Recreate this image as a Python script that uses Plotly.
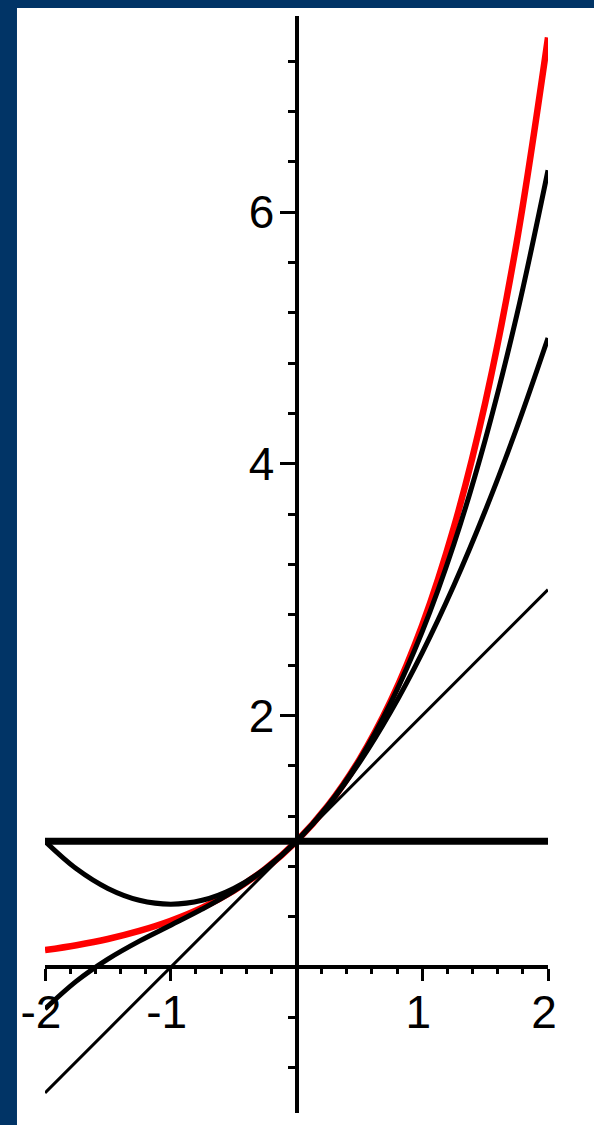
import plotly.graph_objects as go

# Sample points on [-2, 2]
x_vals = [-2.0, -1.75, -1.5, -1.25, -1.0, -0.75, -0.5, -0.25, 0.0,
          0.25, 0.5, 0.75, 1.0, 1.25, 1.5, 1.75, 2.0]

# exp(x)
y_exp = [0.135, 0.174, 0.223, 0.287, 0.368, 0.472, 0.607, 0.779, 1.0,
         1.284, 1.649, 2.117, 2.718, 3.490, 4.482, 5.755, 7.389]
# Taylor polynomials of exp about 0
y_t0 = [1.0] * 17
y_t1 = [-1.0, -0.75, -0.5, -0.25, 0.0, 0.25, 0.5, 0.75, 1.0,
        1.25, 1.5, 1.75, 2.0, 2.25, 2.5, 2.75, 3.0]
y_t2 = [1.0, 0.781, 0.625, 0.531, 0.5, 0.531, 0.625, 0.781, 1.0,
        1.281, 1.625, 2.031, 2.5, 3.031, 3.625, 4.281, 5.0]
y_t3 = [-0.333, -0.112, 0.063, 0.206, 0.333, 0.461, 0.604, 0.779, 1.0,
        1.284, 1.646, 2.102, 2.667, 3.357, 4.188, 5.174, 6.333]

x_tick_vals = [-2, -1, 1, 2]
x_tick_text = ["-2", "-1", "1", "2"]
y_tick_vals = [2, 4, 6]
y_tick_text = ["2", "4", "6"]

X_RANGE = [-2.0, 2.0]
Y_RANGE = [-1.16, 7.56]

BG_BLUE = "#013466"
FONT = dict(family="Liberation Sans, Arial, sans-serif", size=46, color="black")

fig = go.Figure()

fig.add_trace(go.Scatter(x=x_vals, y=y_exp, mode="lines", line_shape="spline",
                         line=dict(color="#ff0000", width=6.5)))
fig.add_trace(go.Scatter(x=x_vals, y=y_t0, mode="lines",
                         line=dict(color="black", width=7)))
fig.add_trace(go.Scatter(x=x_vals, y=y_t1, mode="lines",
                         line=dict(color="black", width=3)))
fig.add_trace(go.Scatter(x=x_vals, y=y_t2, mode="lines", line_shape="spline",
                         line=dict(color="black", width=5)))
fig.add_trace(go.Scatter(x=x_vals, y=y_t3, mode="lines", line_shape="spline",
                         line=dict(color="black", width=5)))

# axes crossing at the origin
x_axis_pos = (0 - Y_RANGE[0]) / (Y_RANGE[1] - Y_RANGE[0])
y_axis_pos = (0 - X_RANGE[0]) / (X_RANGE[1] - X_RANGE[0])

fig.update_layout(
    width=594, height=1125,
    margin=dict(l=45, r=46, t=16, b=12),
    paper_bgcolor=BG_BLUE,
    plot_bgcolor="white",
    showlegend=False,
    font=FONT,
    xaxis=dict(
        range=X_RANGE, anchor="free", position=x_axis_pos,
        showgrid=False, zeroline=False,
        showline=True, linecolor="black", linewidth=4,
        tickmode="array", tickvals=x_tick_vals, ticktext=x_tick_text,
        ticks="outside", ticklen=12, tickwidth=3, tickcolor="black",
        ticklabelstandoff=-8, ticklabelshift=-4,
        tickfont=FONT,
        minor=dict(dtick=0.2, tick0=0, ticks="outside", ticklen=5,
                   tickwidth=3, tickcolor="black", showgrid=False),
    ),
    yaxis=dict(
        range=Y_RANGE, anchor="free", position=y_axis_pos,
        showgrid=False, zeroline=False,
        showline=True, linecolor="black", linewidth=4,
        tickmode="array", tickvals=y_tick_vals, ticktext=y_tick_text,
        ticks="outside", ticklen=15, tickwidth=3, tickcolor="black",
        ticklabelstandoff=-4,
        tickfont=FONT,
        minor=dict(dtick=0.4, tick0=0, ticks="outside", ticklen=7,
                   tickwidth=3, tickcolor="black", showgrid=False),
    ),
    shapes=[
        # white canvas behind the plot, leaving the blue frame on top and left
        dict(type="rect", xref="paper", yref="paper",
             x0=-0.0557, x1=1.2, y0=-0.1, y1=1.0073,
             fillcolor="white", line=dict(width=0), layer="below"),
    ],
)

fig.write_html("out.html")
